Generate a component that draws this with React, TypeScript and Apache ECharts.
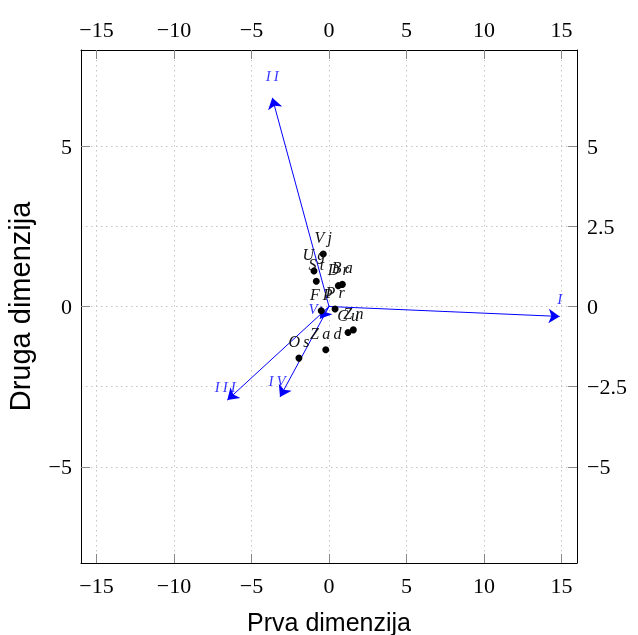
import React, { useEffect, useRef } from "react";
import * as echarts from "echarts";

// Observation points (black dots)
const pointNames = ["Vj", "Ug", "St", "Dr", "Ba", "FP", "Pr", "Cu", "Zn", "Zad", "Os"];
const pointX = [-0.37, -0.97, -0.82, 0.6, 0.86, -0.5, 0.39, 1.23, 1.57, -0.21, -1.94];
const pointY = [1.64, 1.11, 0.79, 0.65, 0.69, -0.13, -0.08, -0.81, -0.73, -1.35, -1.61];

// Variable vectors (blue arrows)
const vecNames = ["I", "II", "III", "IV", "V"];
const vecX = [14.88, -3.66, -6.56, -3.16, -0.58];
const vecY = [-0.31, 6.51, -2.92, -2.82, -0.38];

// Tick values
const xTicks = [-15, -10, -5, 0, 5, 10, 15];
const yTicksLeft = [-5, 0, 5];
const yTicksRight = [-5, -2.5, 0, 2.5, 5];

const spaced = (s: string) => s.split("").join("\u2009");
const fmt = (v: number) => (v < 0 ? "\u2212" + String(-v) : String(v));

const tickFont = { fontFamily: "Liberation Serif", fontSize: 22, color: "#000" };
const gridLine = { show: true, lineStyle: { type: [1.5, 3.5] as any, color: "#c4c4c4", width: 1 } };

export default function App() {
  const ref = useRef<HTMLDivElement>(null);
  useEffect(() => {
    const chart = echarts.init(ref.current!, null, { renderer: "svg" });
    const axisLine = { show: true, onZero: false, lineStyle: { color: "#000", width: 1 } };
    const tick = (vals: number[]) => ({
      show: true,
      inside: true,
      length: 9,
      customValues: vals,
      lineStyle: { color: "#888", width: 1 },
    });
    const vecLabelOffsets: number[][] = [[0, 0], [0, -4], [-2, 4], [-3, 2], [-7, 8]];
    chart.setOption({
      animation: false,
      grid: {
        left: 81,
        top: 50,
        width: 496,
        height: 513,
        containLabel: false,
        outerBoundsMode: "none",
      },
      xAxis: [
        {
          type: "value",
          position: "bottom",
          min: -16,
          max: 16,
          axisLine,
          axisTick: tick(xTicks),
          axisLabel: { ...tickFont, customValues: xTicks, margin: 11, formatter: fmt },
          splitLine: gridLine,
          name: "Prva dimenzija",
          nameLocation: "middle",
          nameGap: 46,
          nameTextStyle: { fontFamily: "Liberation Sans", fontSize: 25, color: "#000" },
        },
        {
          type: "value",
          position: "top",
          min: -16,
          max: 16,
          axisLine,
          axisTick: tick(xTicks),
          axisLabel: { ...tickFont, customValues: xTicks, margin: 10, formatter: fmt },
          splitLine: { show: false },
        },
      ],
      yAxis: [
        {
          type: "value",
          position: "left",
          min: -8,
          max: 8,
          axisLine,
          axisTick: tick(yTicksLeft),
          axisLabel: { ...tickFont, customValues: yTicksLeft, margin: 9, formatter: fmt },
          splitLine: { show: false },
          name: "Druga dimenzija",
          nameLocation: "middle",
          nameGap: 47,
          nameTextStyle: { fontFamily: "Liberation Sans", fontSize: 29, color: "#000" },
        },
        {
          type: "value",
          position: "right",
          min: -8,
          max: 8,
          axisLine,
          axisTick: tick(yTicksRight),
          axisLabel: { ...tickFont, customValues: yTicksRight, margin: 10, formatter: fmt },
          splitLine: gridLine,
        },
      ],
      series: [
        {
          type: "lines",
          coordinateSystem: "cartesian2d",
          xAxisIndex: 0,
          yAxisIndex: 0,
          symbol: ["none", "arrow"],
          symbolSize: [6, 11],
          lineStyle: { color: "#0000ff", width: 1, opacity: 1 },
          data: vecNames.map((n, i) => ({ name: n, coords: [[0, 0], [vecX[i], vecY[i]]] })),
          z: 3,
        },
        {
          type: "scatter",
          xAxisIndex: 0,
          yAxisIndex: 0,
          symbolSize: 0,
          data: vecNames.map((n, i) => ({
            name: n,
            value: [vecX[i], vecY[i]],
            label: { offset: vecLabelOffsets[i] },
          })),
          label: {
            show: true,
            position: "top",
            distance: 10,
            formatter: (p: any) => spaced(p.name),
            fontFamily: "Liberation Serif",
            fontStyle: "italic",
            fontSize: 15,
            color: "#0000ff",
          },
          z: 4,
        },
        {
          type: "scatter",
          xAxisIndex: 0,
          yAxisIndex: 0,
          symbol: "circle",
          symbolSize: 7,
          itemStyle: { color: "#000", opacity: 1 },
          data: pointNames.map((n, i) => ({ name: n, value: [pointX[i], pointY[i]] })),
          label: {
            show: true,
            position: "top",
            distance: 5,
            formatter: (p: any) => spaced(p.name),
            fontFamily: "Liberation Serif",
            fontStyle: "italic",
            fontSize: 16,
            color: "#111",
          },
          z: 5,
        },
      ],
    });
    return () => chart.dispose();
  }, []);
  return <div ref={ref} style={{ position: "fixed", left: 0, top: 0, width: 638, height: 635 }} />;
}
